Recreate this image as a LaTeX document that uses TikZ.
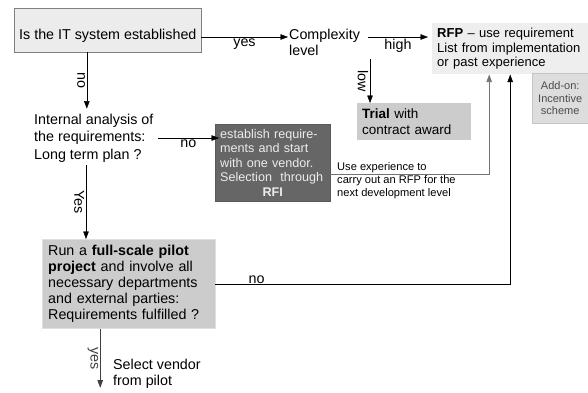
\documentclass[tikz,border=0pt]{standalone}
\usepackage{fontspec}
\setmainfont{Liberation Sans}
\usetikzlibrary{arrows.meta,calc,positioning}

\begin{document}
\begin{tikzpicture}
        [x=1pt,y=-1pt,
         every node/.style={font=\fontsize{14.3}{16}\selectfont},
         flow/.style={-{Triangle[length=7.5pt,width=5.5pt]},thin},
         box/.style={anchor=north west, inner sep=5pt, align=left},
         lbl/.style={inner sep=1.5pt}]
        \useasboundingbox (0,0) rectangle (588,392);
        %\draw[help lines,step=20] (0,0) grid (588,392);
        \node[box, draw=gray, fill=gray!15, minimum width=187, minimum height=44, align=center, text height=20pt, text depth=2pt] (est) at (14,8) {Is the IT system established};
        \node[anchor=west, inner sep=0, align=left] (cplx) at (289,42) {Complexity\\level};
        \node[box, fill=gray!13, text width=146, minimum height=50, font=\fontsize{13}{14.5}\selectfont] (rfp) at (432,23) {\textbf{RFP} -- use requirement\\List from implementation\\or past experience};
        \node[box, draw=gray!45, fill=gray!27, minimum width=56, minimum height=50, align=center, text=black!70, inner sep=2pt, font=\fontsize{11}{12.5}\selectfont] (addon) at (532,73) {Add-on:\\Incentive\\scheme};
        \node[box, fill=gray!40, text width=104, minimum height=37, font=\fontsize{13.5}{16}\selectfont] (trial) at (357,103) {\textbf{Trial} with\\contract award};
        \node[anchor=west, inner sep=0, align=left, font=\fontsize{14.3}{17.5}\selectfont] (intern) at (34,138) {Internal analysis of\\the requirements:\\Long term plan ?};
        \node[box, draw=black!65, fill=black!60, text=gray!15, text width=105, minimum height=77, font=\fontsize{12.6}{14.5}\selectfont] (rfi) at (215,124) {establish require-\\ments and start\\with one vendor.\\Selection\ \ through\\\makebox[\linewidth]{\textbf{RFI}}};
        \node[box, draw=gray!25, fill=gray!40, text width=161, minimum height=86, inner sep=6pt] (pilot) at (42,239) {Run a \textbf{full-scale pilot}\\\textbf{project} and involve all\\necessary departments\\and external parties:\\Requirements fulfilled ?};
        \node[anchor=west, inner sep=0, align=left] (select) at (113,374) {Select vendor\\from pilot};
        \node[anchor=west, inner sep=0, align=left, font=\fontsize{11.1}{13}\selectfont] (exper) at (337,181) {Use experience to\\carry out an RFP for the\\next development level};
        \coordinate (yes) at (201,37);
        \coordinate (high) at (368,37);
        \coordinate (low) at (370,59);
        \coordinate (vendor) at ([xshift=-28.5,yshift=-59]pilot.south);
        % connectors
        \draw[flow] (yes) -- ([xshift=-1]yes -| cplx.west) node[midway, below, lbl] {yes};
        \draw[flow] (high) -- ([xshift=-4]high -| rfp.west) node[midway, below, lbl] {high};
        \draw[flow] (low) -- (low |- trial.north) node[midway, below, sloped, lbl] {low};
        \draw[flow] ([xshift=-21]est.south) -- ([xshift=-21,yshift=5]est.south |- intern.north) node[midway, below, sloped, lbl] {no};
        \draw[flow] ([xshift=4]intern.east) -- ([xshift=4]intern.east -| rfi.west) node[midway, below, lbl] {no};
        \draw[flow] ([yshift=-3]intern.south -| 86,0) -- (86,0 |- pilot.north) node[midway, below, sloped, lbl] {Yes};
        \draw[flow, black!55, semithick] ([yshift=-11.5]rfi.east) -| ([xshift=-21]rfp.south);
        \draw[flow] (pilot.east) -| (rfp.south) node[pos=0.07, above, inner sep=0.5pt] {no};
        \draw[flow, black!75, semithick] ([xshift=-28.5]pilot.south) -- (vendor) node[midway, below, sloped, lbl] {yes};
\end{tikzpicture}
\end{document}
